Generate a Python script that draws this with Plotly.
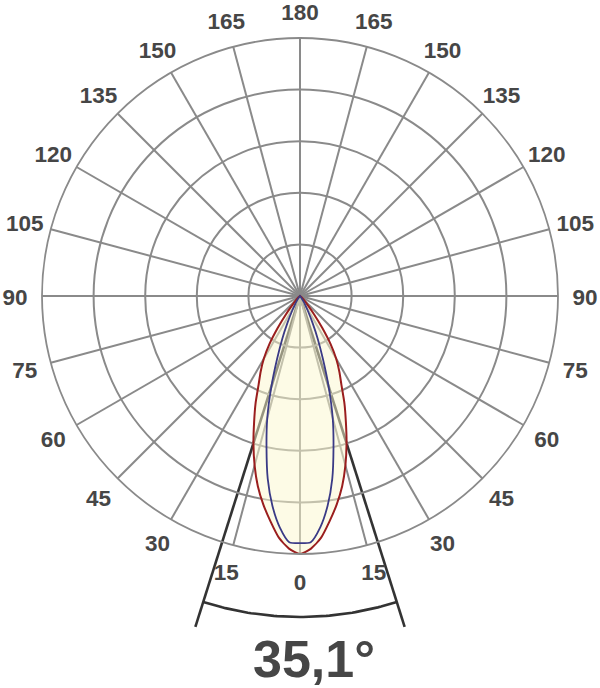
import math
import plotly.graph_objects as go

# ---- data ----
angles = [0, 2.5, 5, 7.5, 10, 12.5, 15, 17.5, 20, 22.5, 25, 27.5, 30, 32.5, 35, 37.5, 40, 45, 50, 60, 90]
plane_c0 = [1.00, 0.98, 0.94, 0.88, 0.82, 0.755, 0.68, 0.60, 0.52, 0.45, 0.38, 0.33, 0.28, 0.22, 0.15, 0.09, 0.05, 0.02, 0.01, 0.0, 0.0]
plane_c90 = [0.958, 0.955, 0.90, 0.82, 0.72, 0.60, 0.49, 0.37, 0.26, 0.18, 0.115, 0.07, 0.04, 0.025, 0.015, 0.008, 0.005, 0.0, 0.0, 0.0, 0.0]
tick_angles = list(range(0, 360, 15))
tick_labels = [str(a if a <= 180 else 360 - a) for a in tick_angles]
ring_values = [0.2, 0.4, 0.6, 0.8]
beam_angle = 35.1
beam_label = "35,1°"

# ---- layout constants ----
W, H = 600, 688
R_PX = 258.0
CX, CY = 300.0, 296.0  # pixel centre from top-left
GRID = "#8a8a8a"
TXT = "#464646"
FONT = "Liberation Sans"
LABEL_R = 285.0 / R_PX
LABEL_DY = -3.0 / R_PX   # optical correction: digits sit slightly above box centre


def mirror(vals):
    th = [360 - a for a in reversed(angles)] + angles[1:]
    rr = list(reversed(vals)) + vals[1:]
    return th, rr


fig = go.Figure()

# beam-angle markers on an overlaid cartesian axis (1 unit = polar radius)
half = math.radians(beam_angle / 2)
line_r = 1.345
arc_r = 1.244
for s in (-1, 1):
    fig.add_trace(go.Scatter(
        x=[0, s * line_r * math.sin(half)], y=[0, -line_r * math.cos(half)],
        mode="lines", line=dict(color="#333333", width=2.6),
        hoverinfo="skip", showlegend=False))
n = 60
arc_t = [-half + 2 * half * i / n for i in range(n + 1)]
fig.add_trace(go.Scatter(
    x=[arc_r * math.sin(t) for t in arc_t], y=[-arc_r * math.cos(t) for t in arc_t],
    mode="lines", line=dict(color="#333333", width=2.6),
    hoverinfo="skip", showlegend=False))

# angle labels, centred on a circle just outside the diagram (0 at bottom, clockwise)
fig.add_trace(go.Scatter(
    x=[-LABEL_R * math.sin(math.radians(a)) for a in tick_angles],
    y=[-LABEL_R * math.cos(math.radians(a)) + LABEL_DY for a in tick_angles],
    text=tick_labels, mode="text", textposition="middle center", cliponaxis=False,
    textfont=dict(family=FONT, size=22.5, color=TXT, weight="bold"),
    hoverinfo="skip", showlegend=False))

th, rr = mirror(plane_c0)
fig.add_trace(go.Scatterpolar(
    theta=th, r=rr, mode="lines", fill="toself",
    fillcolor="rgba(251,247,205,0.5)",
    line=dict(color="#9a1e1e", width=2, shape="spline", smoothing=0.6),
    showlegend=False, name="C0-C180"))
th, rr = mirror(plane_c90)
fig.add_trace(go.Scatterpolar(
    theta=th, r=rr, mode="lines",
    line=dict(color="#3a3a86", width=1.8, shape="spline", smoothing=0.6),
    showlegend=False, name="C90-C270"))

fig.add_annotation(
    x=14 / R_PX, y=(CY - 659) / R_PX, xref="x", yref="y", text=beam_label, showarrow=False,
    font=dict(family=FONT, size=52, color=TXT, weight="bold"))

fig.update_layout(
    width=W, height=H, margin=dict(l=0, r=0, t=0, b=0),
    paper_bgcolor="white", plot_bgcolor="rgba(0,0,0,0)",
    xaxis=dict(range=[-CX / R_PX, (W - CX) / R_PX], visible=False, domain=[0, 1], fixedrange=True),
    yaxis=dict(range=[-(H - CY) / R_PX, CY / R_PX], visible=False, domain=[0, 1], fixedrange=True),
    polar=dict(
        domain=dict(x=[(CX - R_PX) / W, (CX + R_PX) / W],
                    y=[1 - (CY + R_PX) / H, 1 - (CY - R_PX) / H]),
        bgcolor="rgba(0,0,0,0)",
        angularaxis=dict(
            rotation=270, direction="clockwise",
            tickmode="array", tickvals=tick_angles, showticklabels=False,
            showgrid=True, gridcolor=GRID, gridwidth=1.7,
            showline=True, linecolor=GRID, linewidth=1.8, ticks="",
        ),
        radialaxis=dict(
            range=[0, 1], autorange=False, tickmode="array", tickvals=ring_values,
            showticklabels=False, ticks="", showline=False,
            showgrid=True, gridcolor=GRID, gridwidth=1.7,
        ),
    ),
)

fig.write_html("out.html", config={"displayModeBar": False},
               post_script="document.body.style.margin='0';")
